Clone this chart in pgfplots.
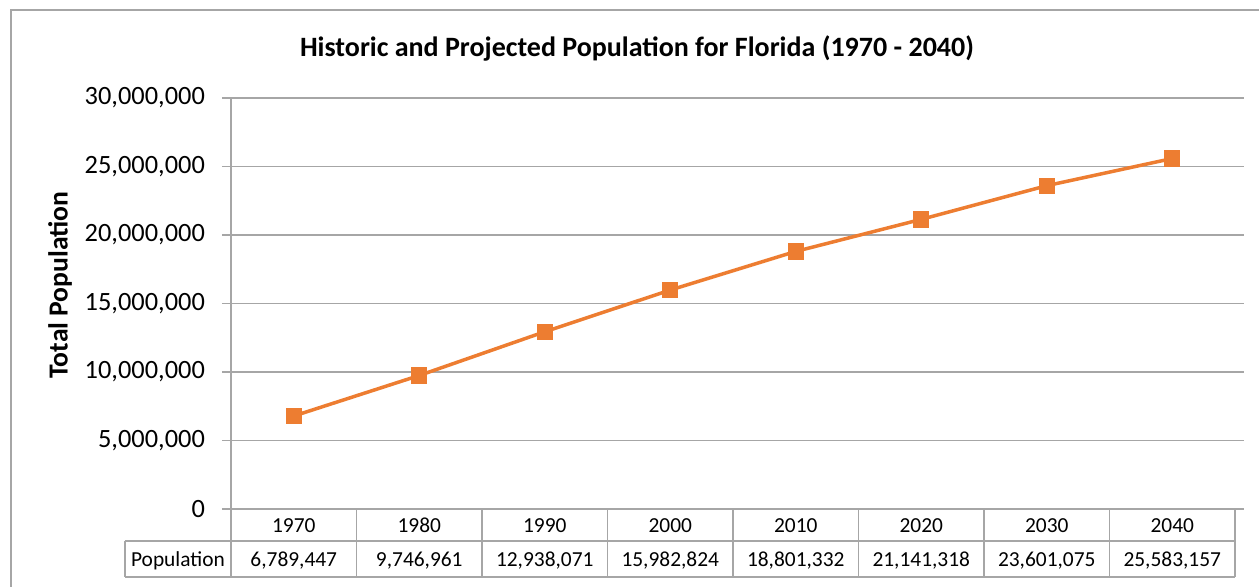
\documentclass[border=0pt]{standalone}
\usepackage{pgfplots}
\pgfplotsset{compat=1.18}
\usepackage{fontspec}
\setmainfont{Carlito}
\definecolor{org}{HTML}{ED7D31}
\definecolor{gridg}{HTML}{A6A6A6}
\begin{document}
\begin{tikzpicture}[x=0.5pt,y=0.5pt]
\useasboundingbox (0,0) rectangle (1259,586);
% chart border
\draw[gridg, line width=0.75pt] (11,-10) -- (11,576) -- (1270,576);
% title
\node[font=\fontsize{14}{16}\selectfont\bfseries] at (637,538) {Historic and Projected Population for Florida (1970 - 2040)};
% y label
\node[font=\fontsize{13.8}{16}\selectfont\bfseries, rotate=90] at (60,301) {Total Population};
\begin{axis}[
  at={(115.5pt,38.5pt)}, anchor=south west,
  scale only axis, width=502pt, height=205.5pt,
  xmin=-0.5, xmax=7.5, ymin=0, ymax=30000000,
  xtick=\empty,
  scaled y ticks=false,
  ytick={0,5000000,10000000,15000000,20000000,25000000,30000000},
  yticklabels={0,{5,000,000},{10,000,000},{15,000,000},{20,000,000},{25,000,000},{30,000,000}},
  yticklabel style={font=\fontsize{13.2}{15}\selectfont, anchor=east, xshift=-5pt},
  axis line style={draw=none},
  ymajorgrids, grid style={gridg, line width=0.75pt},
  tick align=outside, major tick length=4.5pt,
  ytick style={gridg, line width=0.75pt},
  clip=false,
]
\addplot[org, line width=1.75pt, mark=square*, mark size=3.2pt, mark options={solid}] coordinates {
  (0,6789447) (1,9746961) (2,12938071) (3,15982824) (4,18801332) (5,21141318) (6,23601075) (7,25583157)
};
\end{axis}
% axis line
\draw[gridg, line width=0.75pt] (231,77) -- (231,488);
% data table
\draw[gridg, line width=0.75pt] (125,45) -- (1235,45);
\draw[gridg, line width=0.75pt] (125,9) -- (1235,9);
\draw[gridg, line width=0.75pt] (125,45) -- (125,9);
\foreach \k in {0,...,8} {
  \draw[gridg, line width=0.75pt] ({231+125.5*\k},77) -- ({231+125.5*\k},9);
}
\node[font=\fontsize{10.7}{12}\selectfont, anchor=base, inner sep=0pt] at (178,20) {Population};
\foreach \yr/\val [count=\i from 0] in {1970/{6,789,447},1980/{9,746,961},1990/{12,938,071},2000/{15,982,824},2010/{18,801,332},2020/{21,141,318},2030/{23,601,075},2040/{25,583,157}} {
  \node[font=\fontsize{10.7}{12}\selectfont, anchor=base, inner sep=0pt] at ({231+125.5*(\i+0.5)},54) {\yr};
  \node[font=\fontsize{10.7}{12}\selectfont, anchor=base, inner sep=0pt] at ({231+125.5*(\i+0.5)},20) {\val};
}
\end{tikzpicture}
\end{document}
